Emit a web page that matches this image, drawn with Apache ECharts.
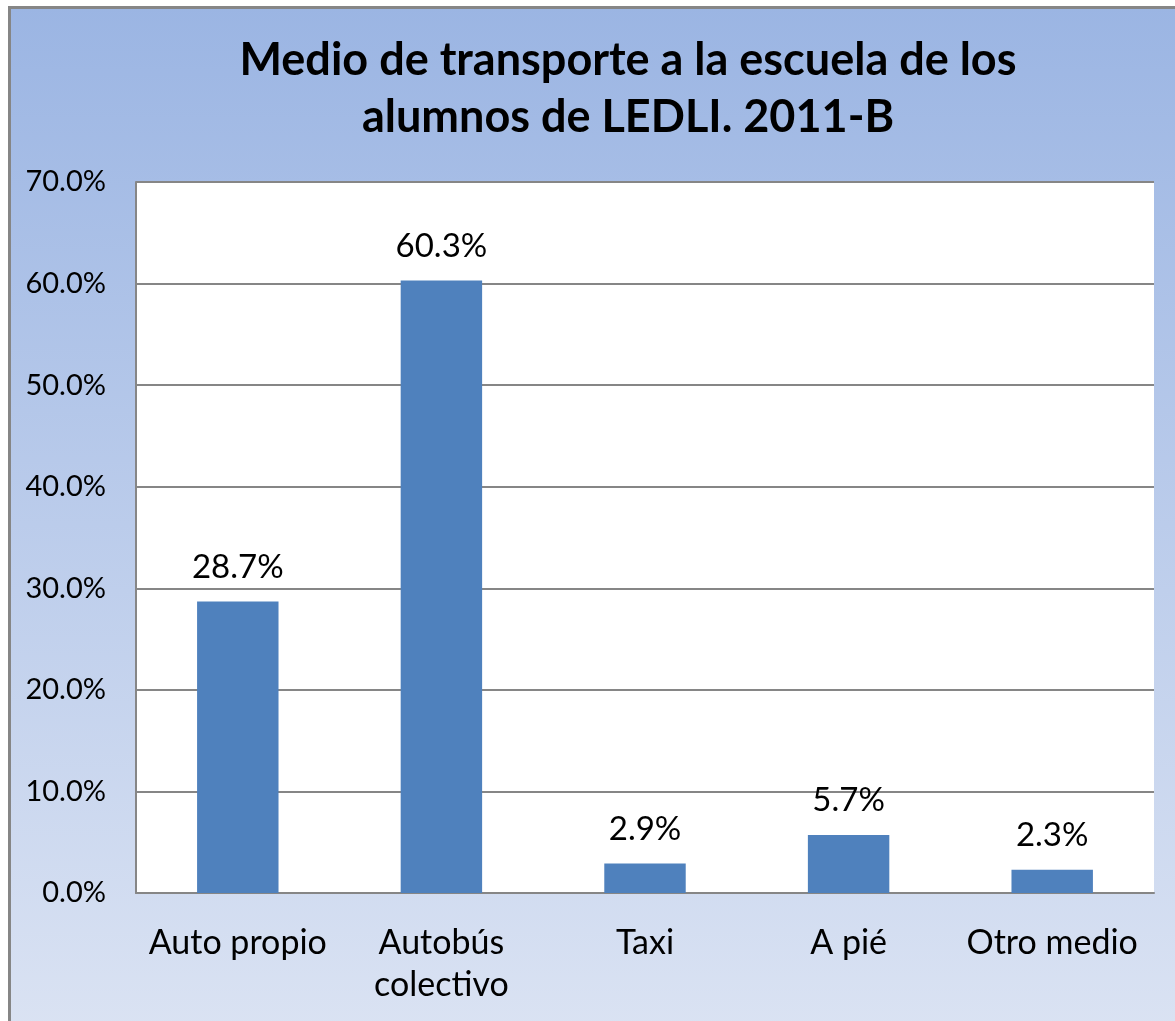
<!DOCTYPE html>
<html>
<head>
<meta charset="utf-8">
<script src="https://cdn.jsdelivr.net/npm/echarts@6/dist/echarts.min.js"></script>
<style>
  html, body { margin: 0; padding: 0; background: #fff; }
  #chart { width: 1175px; height: 1021px; }
</style>
</head>
<body>
<div id="chart"></div>
<script>
var categories = ["Auto propio", "Autobús\ncolectivo", "Taxi", "A pié", "Otro medio"];
var values = [28.7, 60.3, 2.9, 5.7, 2.3];
var titleText = "Medio de transporte a la escuela de los\nalumnos de LEDLI. 2011-B";

var font = "Lato, 'Open Sans', sans-serif";
var myChart = echarts.init(document.getElementById("chart"));
var option = {
  animation: false,
  graphic: [
    {
      type: "rect",
      z: -10,
      shape: { x: 9.5, y: 7.5, width: 1200, height: 1100 },
      style: {
        fill: new echarts.graphic.LinearGradient(0, 0, 0, 1, [
          { offset: 0, color: "#9bb5e3" },
          { offset: 1, color: "#dfe6f4" },
        ]),
        stroke: "#868686",
        lineWidth: 3,
      },
    },
  ],
  title: {
    text: titleText,
    left: 623,
    top: 27,
    textAlign: "center",
    textStyle: {
      fontFamily: font,
      fontSize: 45,
      fontWeight: "bold",
      color: "#000",
      lineHeight: 57,
    },
  },
  grid: {
    left: 136,
    top: 182,
    right: 21,
    bottom: 128,
    show: true,
    backgroundColor: "#fff",
    borderWidth: 0,
  },
  xAxis: {
    type: "category",
    data: categories,
    axisLine: { show: true, lineStyle: { color: "#868686", width: 2 } },
    axisTick: { show: false },
    axisLabel: {
      fontFamily: font,
      fontSize: 34,
      color: "#000",
      margin: 29,
      lineHeight: 42,
      interval: 0,
    },
  },
  yAxis: {
    type: "value",
    min: 0,
    max: 70,
    interval: 10,
    axisLine: { show: true, lineStyle: { color: "#868686", width: 2 } },
    axisTick: { show: false },
    splitLine: { show: true, lineStyle: { color: "#868686", width: 2 } },
    axisLabel: {
      fontFamily: font,
      fontSize: 29,
      color: "#000",
      margin: 30,
      formatter: function (v) {
        return v.toFixed(1) + "%";
      },
    },
  },
  series: [
    {
      type: "bar",
      data: values,
      barWidth: "40%",
      itemStyle: { color: "#4f81bd" },
      label: {
        show: true,
        position: "top",
        distance: 18,
        fontFamily: font,
        fontSize: 33,
        color: "#000",
        formatter: function (p) {
          return p.value.toFixed(1) + "%";
        },
      },
    },
  ],
};
myChart.setOption(option);
</script>
</body>
</html>
